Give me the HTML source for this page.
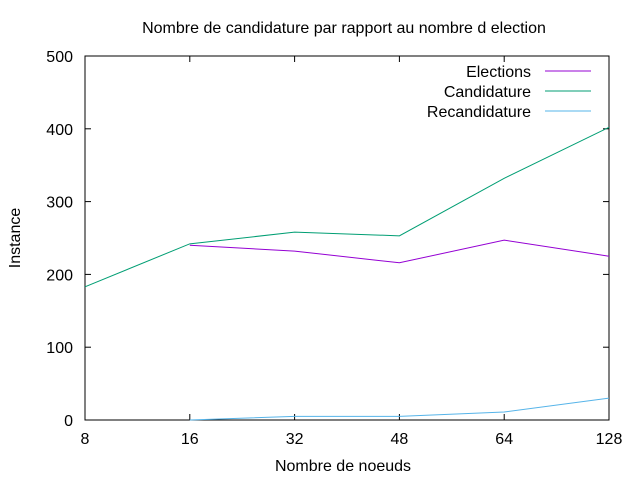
<!DOCTYPE html>
<html><head><meta charset="utf-8"><style>
body{margin:0;background:#fff}
svg text{font-family:"Liberation Sans",sans-serif;font-size:16px;fill:#000}
</style></head><body>
<svg id="chart" width="640" height="480">
<rect x="0" y="0" width="640" height="480" fill="#fff"/>
<text x="344" y="33" text-anchor="middle" style="font-size:16px">Nombre de candidature par rapport au nombre d election</text>
<text x="343" y="471" text-anchor="middle">Nombre de noeuds</text>
<text transform="translate(20,238) rotate(-90)" text-anchor="middle">Instance</text>
<g id="axes"></g>
<g id="series"></g>
<g id="legend"></g>
</svg>
<script>
const categories = ["8","16","32","48","64","128"];
const yTicks = [0,100,200,300,400,500];
const elections = [null,240,232,216,247,225];
const candidature = [183,242,258,253,332,402];
const recandidature = [null,0,5,5,11,30];
const seriesNames = ["Elections","Candidature","Recandidature"];
const seriesColors = ["#9400d3","#009e73","#56b4e9"];

const L=85,R=609,T=56,B=420,NS="http://www.w3.org/2000/svg";
const xs=i=>L+(R-L)*i/(categories.length-1);
const ys=v=>B-(B-T)*v/500;
function mk(tag,attrs,parent){const e=document.createElementNS(NS,tag);for(const k in attrs)e.setAttribute(k,attrs[k]);parent.appendChild(e);return e;}
const axes=document.getElementById('axes');
const frame=mk('rect',{x:L,y:T,width:R-L,height:B-T,fill:'none',stroke:'#000','stroke-width':1},axes);


yTicks.forEach(v=>{
  const y=ys(v);
  mk('line',{x1:L,y1:y,x2:L+6,y2:y,stroke:'#000'},axes);
  mk('line',{x1:R,y1:y,x2:R-6,y2:y,stroke:'#000'},axes);
  const t=mk('text',{x:L-12,y:y+6,'text-anchor':'end'},axes);t.textContent=v;
  
  
});
categories.forEach((c,i)=>{
  const x=xs(i);
  mk('line',{x1:x,y1:B,x2:x,y2:B-6,stroke:'#000'},axes);
  mk('line',{x1:x,y1:T,x2:x,y2:T+6,stroke:'#000'},axes);
  const t=mk('text',{x:x,y:B+24,'text-anchor':'middle'},axes);t.textContent=c;
  
  
});
const sg=document.getElementById('series');
[elections,candidature,recandidature].forEach((arr,si)=>{
  const pts=[];arr.forEach((v,i)=>{if(v!==null)pts.push(xs(i)+','+ys(v));});
  const p=mk('polyline',{points:pts.join(' '),fill:'none',stroke:seriesColors[si],'stroke-width':1},sg);
  
  
});
const lg=document.getElementById('legend');
seriesNames.forEach((n,i)=>{
  const y=71+i*20;
  const t=mk('text',{x:531,y:y+6,'text-anchor':'end'},lg);t.textContent=n;
  
  
  mk('line',{x1:545,y1:y,x2:591,y2:y,stroke:seriesColors[i]},lg);
});
</script>
</body></html>
